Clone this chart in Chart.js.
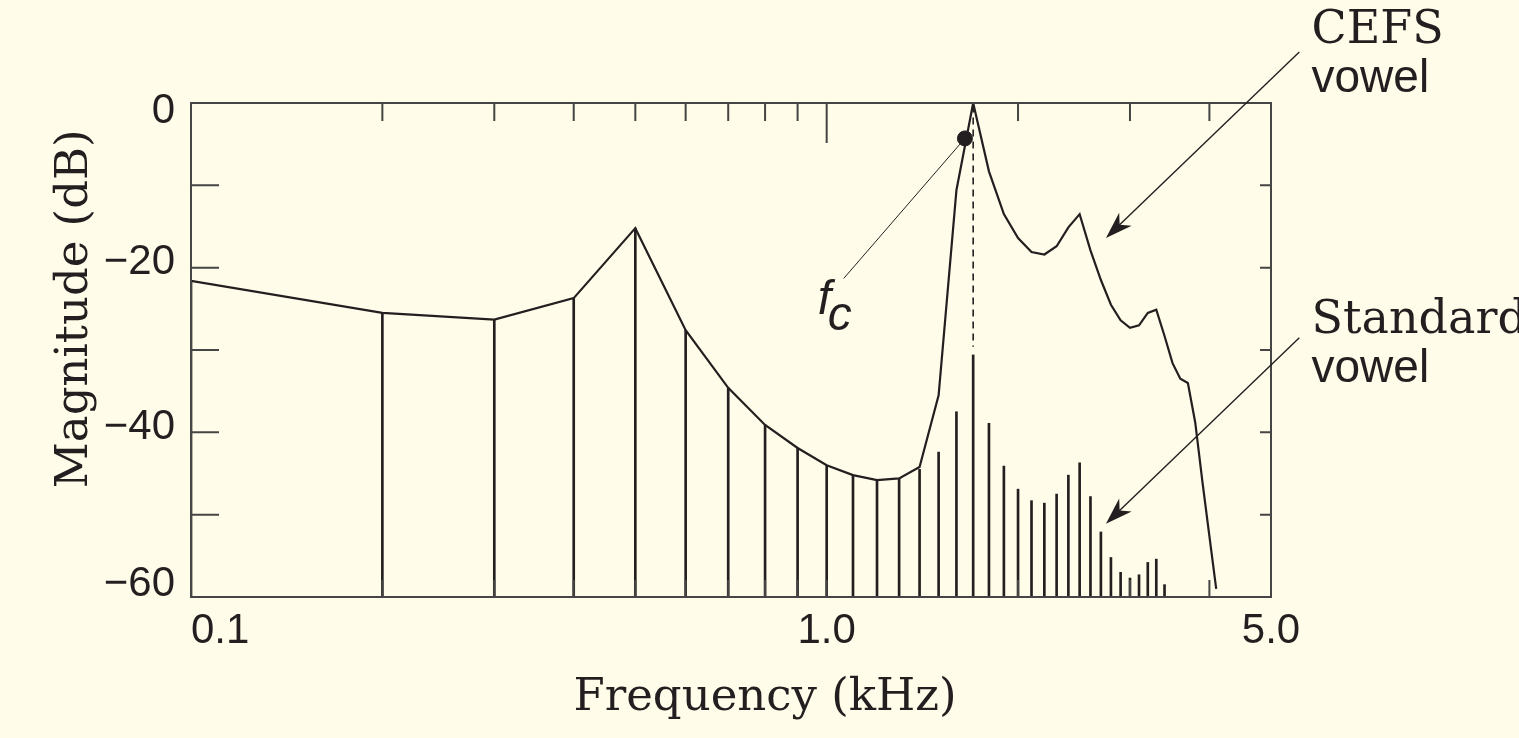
<!DOCTYPE html>
<html>
<head>
<meta charset="utf-8">
<title>CEFS vowel vs standard vowel</title>
<script src="https://cdn.jsdelivr.net/npm/chart.js@4.4.1/dist/chart.umd.min.js"></script>
<style>
  html, body { margin: 0; padding: 0; background: #fffce9; }
  canvas { display: block; }
</style>
</head>
<body>
<canvas id="spectrum" width="1519" height="738"></canvas>
<script>
// harmonic frequencies in kHz (f0 = 100 Hz)
const harmonicsKHz = [0.1, 0.2, 0.3, 0.4, 0.5, 0.6, 0.7, 0.8, 0.9, 1.0,
  1.1, 1.2, 1.3, 1.4, 1.5, 1.6, 1.7, 1.8, 1.9, 2.0,
  2.1, 2.2, 2.3, 2.4, 2.5, 2.6, 2.7, 2.8, 2.9, 3.0,
  3.1, 3.2, 3.3, 3.4, 3.5, 3.6, 3.7, 3.8, 3.9, 4.0, 4.1];

// CEFS vowel envelope (dB), one value per harmonic
const cefsDb = [-21.6, -25.5, -26.3, -23.7, -15.2, -27.6, -34.6, -39.1, -41.9, -44.0,
  -45.2, -45.8, -45.6, -44.2, -35.5, -10.6, 0.0, -8.3, -13.5, -16.4,
  -18.1, -18.4, -17.4, -15.1, -13.5, -17.9, -21.5, -24.5, -26.4, -27.3,
  -27.0, -25.5, -25.1, -28.3, -31.6, -33.5, -34.0, -38.8, -46.0, -52.6, -59.0];

// standard vowel harmonic amplitudes (dB)
const standardDb = [-21.6, -25.5, -26.3, -23.7, -15.2, -27.6, -34.6, -39.1, -41.9, -44.0,
  -45.2, -45.8, -45.6, -44.5, -42.4, -37.5, -30.6, -38.9, -44.1, -46.9,
  -48.3, -48.6, -47.5, -45.2, -43.7, -47.8, -52.1, -55.2, -57.0, -57.7,
  -57.3, -55.8, -55.4, -58.5];

const fcPoint = [{ x: 1.65, y: -4.3 }];
const peakKHz = 1.7;
const peakDashDb = [-0.3, -29.6];

const xLabelValues = [0.1, 1.0, 5.0];
const xLabelText = ['0.1', '1.0', '5.0'];
const xTickValues = [0.2, 0.3, 0.4, 0.5, 0.6, 0.7, 0.8, 0.9, 1.0, 2, 3, 4];
const yLabelValues = [0, -20, -40, -60];
const yLabelText = ['0', '\u221220', '\u221240', '\u221260'];
const yTickValues = [-10, -20, -30, -40, -50];

const INK = '#231f20';
const FRAME = '#454545';
const SANS = '"Liberation Sans", Arial, sans-serif';
const SERIF = '"DejaVu Serif", serif';

// annotation anchors in data units [kHz, dB]
const arrows = [
  { from: [5.54, 6.2], to: [2.75, -16.4] },
  { from: [5.54, -28.5], to: [2.75, -51.1] }
];
const texts = [
  { text: 'CEFS', at: [5.79, 7.3], font: '46px ' + SERIF },
  { text: 'vowel', at: [5.79, 1.3], font: '46px ' + SANS },
  { text: 'Standard', at: [5.79, -27.9], font: '46px ' + SERIF },
  { text: 'vowel', at: [5.79, -33.9], font: '46px ' + SANS },
  { text: 'f', at: [0.968, -25.6], font: 'italic 48px ' + SANS },
  { text: 'c', at: [1.004, -27.6], font: 'italic 48px ' + SANS }
];
const fcLeaderFrom = [1.064, -21.3];

function arrowHead(ctx, x0, y0, x1, y1) {
  const a = Math.atan2(y1 - y0, x1 - x0);
  ctx.save();
  ctx.translate(x1, y1);
  ctx.rotate(a);
  ctx.beginPath();
  ctx.moveTo(0, 0);
  ctx.lineTo(-27, -9);
  ctx.lineTo(-19, 0);
  ctx.lineTo(-27, 9);
  ctx.closePath();
  ctx.fill();
  ctx.restore();
}

const decor = {
  id: 'decor',
  afterDraw(chart) {
    const { ctx, chartArea: a, scales: { x, y } } = chart;
    const px = (p) => [x.getPixelForValue(p[0]), y.getPixelForValue(p[1])];
    ctx.save();
    ctx.strokeStyle = FRAME;
    ctx.fillStyle = INK;
    ctx.lineWidth = 2;
    ctx.strokeRect(a.left, a.top, a.right - a.left, a.bottom - a.top);

    // inward ticks
    ctx.beginPath();
    xTickValues.forEach(v => {
      const xp = x.getPixelForValue(v);
      const len = v === 1.0 ? 40 : 18;
      ctx.moveTo(xp, a.top); ctx.lineTo(xp, a.top + len);
      ctx.moveTo(xp, a.bottom); ctx.lineTo(xp, a.bottom - 17);
    });
    yTickValues.forEach(v => {
      const yp = y.getPixelForValue(v);
      ctx.moveTo(a.left, yp); ctx.lineTo(a.left + 28, yp);
      ctx.moveTo(a.right, yp); ctx.lineTo(a.right - 11, yp);
    });
    ctx.stroke();

    // tick labels
    ctx.font = '42px ' + SANS;
    ctx.textBaseline = 'middle';
    ctx.textAlign = 'right';
    yLabelValues.forEach((v, i) => {
      let yp = y.getPixelForValue(v) - 5;
      yp = Math.min(Math.max(yp, a.top + 8), a.bottom - 13);
      ctx.fillText(yLabelText[i], a.left - 16, yp);
    });
    ctx.textAlign = 'center';
    ctx.textBaseline = 'alphabetic';
    xLabelValues.forEach((v, i) => {
      const w = ctx.measureText(xLabelText[i]).width;
      const xp = Math.max(x.getPixelForValue(v), a.left + w / 2);
      ctx.fillText(xLabelText[i], xp, a.bottom + 46);
    });

    // axis titles
    ctx.font = '45px ' + SERIF;
    ctx.fillText('Frequency (kHz)', (a.left + a.right) / 2 + 34, a.bottom + 113);
    ctx.save();
    ctx.translate(a.left - 116, y.getPixelForValue(-25));
    ctx.rotate(-Math.PI / 2);
    ctx.textBaseline = 'middle';
    ctx.fillText('Magnitude (dB)', 0, 0);
    ctx.restore();

    // annotations
    ctx.textAlign = 'left';
    ctx.textBaseline = 'alphabetic';
    texts.forEach(t => {
      const p = px(t.at);
      ctx.font = t.font;
      ctx.fillText(t.text, p[0], p[1]);
    });
    ctx.strokeStyle = INK;
    ctx.lineWidth = 1.4;
    arrows.forEach(ar => {
      const s = px(ar.from), e = px(ar.to);
      ctx.beginPath();
      ctx.moveTo(s[0], s[1]);
      ctx.lineTo(e[0] + (s[0] - e[0]) * 0.06, e[1] + (s[1] - e[1]) * 0.06);
      ctx.stroke();
      arrowHead(ctx, s[0], s[1], e[0], e[1]);
    });
    const l0 = px(fcLeaderFrom), l1 = px([fcPoint[0].x, fcPoint[0].y]);
    ctx.lineWidth = 1;
    ctx.beginPath();
    ctx.moveTo(l0[0], l0[1]);
    ctx.lineTo(l1[0], l1[1]);
    ctx.stroke();
    ctx.restore();
  }
};

new Chart(document.getElementById('spectrum'), {
  type: 'scatter',
  data: {
    datasets: [
      {
        type: 'bar',
        label: 'Standard vowel',
        data: standardDb.map((v, i) => ({ x: harmonicsKHz[i], y: [-60, v] })),
        backgroundColor: INK,
        barThickness: 2,
        order: 3
      },
      {
        type: 'line',
        label: 'CEFS vowel',
        data: cefsDb.map((v, i) => ({ x: harmonicsKHz[i], y: v })),
        borderColor: INK,
        borderWidth: 2.2,
        pointRadius: 0,
        tension: 0,
        fill: false,
        order: 2
      },
      {
        type: 'line',
        label: 'peak',
        data: peakDashDb.map(v => ({ x: peakKHz, y: v })),
        borderColor: INK,
        borderWidth: 1.6,
        borderDash: [7, 5],
        pointRadius: 0,
        order: 2
      },
      {
        type: 'scatter',
        label: 'fc',
        data: fcPoint,
        backgroundColor: INK,
        borderColor: INK,
        pointRadius: 7.5,
        order: 1
      }
    ]
  },
  options: {
    responsive: false,
    animation: false,
    layout: { padding: { left: 191, top: 103, right: 248, bottom: 141 } },
    plugins: { legend: { display: false }, tooltip: { enabled: false } },
    scales: {
      x: { type: 'logarithmic', min: 0.1, max: 5.0, offset: false, display: false },
      y: { type: 'linear', min: -60, max: 0, display: false }
    }
  },
  plugins: [decor]
});
</script>
</body>
</html>
